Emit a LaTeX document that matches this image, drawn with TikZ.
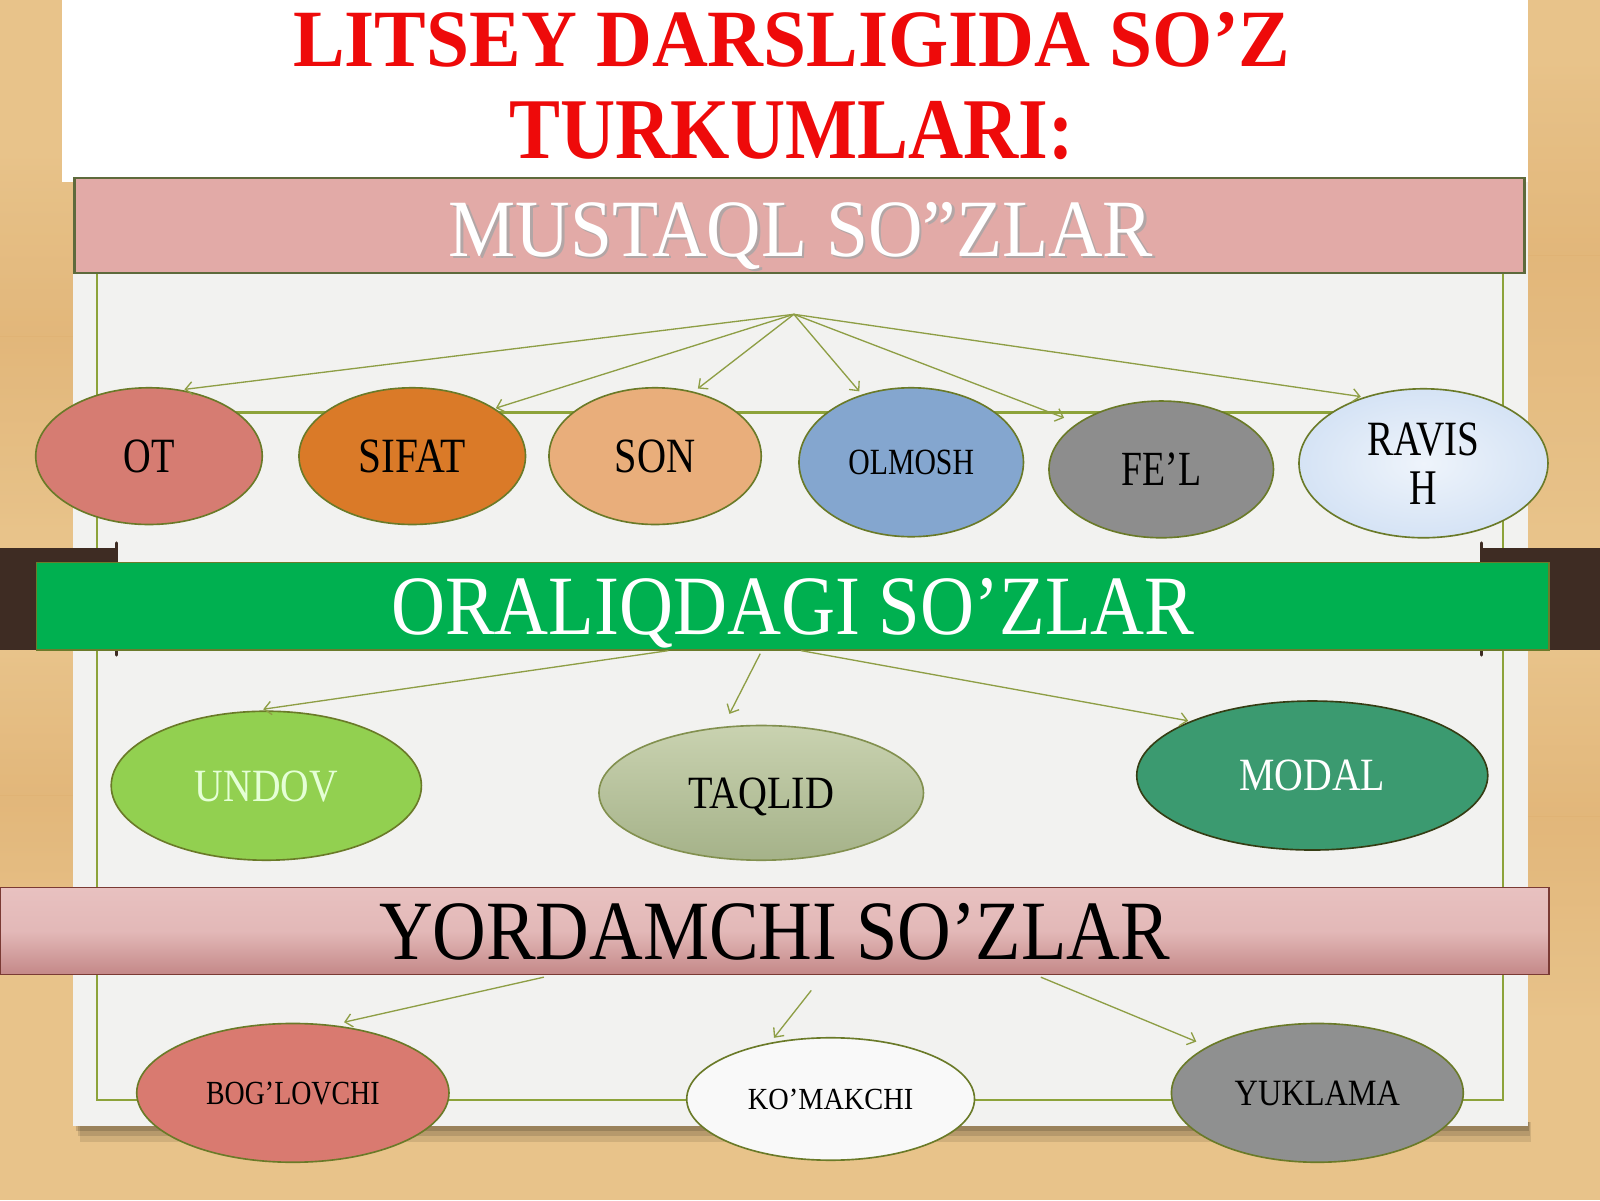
\documentclass[tikz,border=0pt]{standalone}
\usepackage{fontspec}
\setmainfont{Liberation Serif}
\usepackage{graphicx}
\usetikzlibrary{arrows.meta,shapes.geometric}
\definecolor{wood}{HTML}{E8C38A}
\definecolor{wooddark}{HTML}{E0B274}
\definecolor{pagec}{HTML}{F2F2F0}
\definecolor{framec}{HTML}{8DA33A}
\definecolor{arrowc}{HTML}{8E9E45}
\definecolor{ellb}{HTML}{6A7A28}
\definecolor{otc}{HTML}{D67C72}
\definecolor{sifatc}{HTML}{DA7A28}
\definecolor{sonc}{HTML}{E9AE7B}
\definecolor{olmc}{HTML}{84A6CF}
\definecolor{felc}{HTML}{8D8D8D}
\definecolor{ravc}{HTML}{D5E3F5}
\definecolor{undc}{HTML}{92D050}
\definecolor{undt}{HTML}{E5FFD6}
\definecolor{taqt}{HTML}{C9D2B0}
\definecolor{taqb}{HTML}{A5B289}
\definecolor{modc}{HTML}{3B9A70}
\definecolor{bogc}{HTML}{D97A70}
\definecolor{komc}{HTML}{F9F9F9}
\definecolor{yukc}{HTML}{8F9090}
\definecolor{musc}{HTML}{E2AAA7}
\definecolor{musb}{HTML}{5E6A3C}
\definecolor{grn}{HTML}{00B050}
\definecolor{grnb}{HTML}{6B7B2B}
\definecolor{yordt}{HTML}{E8C1C0}
\definecolor{yordb}{HTML}{C48888}
\definecolor{yordbd}{HTML}{7A3A34}
\definecolor{tabc}{HTML}{3E2C23}
\definecolor{titler}{HTML}{EE0A0A}
\newcommand{\fitbox}[3]{\raisebox{0pt}[\height][0pt]{\resizebox{#1pt}{#2pt}{#3}}}
\begin{document}
\begin{tikzpicture}[x=1pt,y=-1pt,
  ell/.style={ellipse, draw=ellb, line width=1.6pt, inner sep=0pt, align=center},
  arr/.style={draw=arrowc, line width=1.3pt, -{Straight Barb[length=7pt,width=13pt]}},
  bar/.style={rectangle, inner sep=0pt}]
\useasboundingbox (0,0) rectangle (1568,1176);
% background wood
\fill[wood] (0,0) rectangle (1568,1176);
\shade[top color=wood, bottom color=wooddark, opacity=.7] (0,150) rectangle (72,330);
\shade[top color=wooddark, bottom color=wood, opacity=.7] (0,330) rectangle (72,520);
\shade[top color=wood, bottom color=wooddark, opacity=.7] (0,640) rectangle (72,780);
\shade[top color=wooddark, bottom color=wood, opacity=.7] (0,780) rectangle (72,950);
\shade[top color=wood, bottom color=wooddark, opacity=.7] (1497,60) rectangle (1568,250);
\shade[top color=wooddark, bottom color=wood, opacity=.7] (1497,250) rectangle (1568,520);
\shade[top color=wood, bottom color=wooddark, opacity=.7] (1497,640) rectangle (1568,800);
\shade[top color=wooddark, bottom color=wood, opacity=.7] (1497,800) rectangle (1568,1000);
% page shadow
\fill[black,opacity=.10] (78,1100) rectangle (1500,1119);
\fill[black,opacity=.12] (76,1100) rectangle (1499,1113);
\fill[black,opacity=.15] (74,1100) rectangle (1498,1108);
% page
\fill[pagec] (72,175) rectangle (1497,1103);
\fill[white] (61,0) rectangle (1497,178);
% inner frame
\draw[framec, line width=1.6pt] (95,268) rectangle (1473,1078);
\draw[framec, line width=2.6pt] (95,404) -- (1473,404);
% title
\node[anchor=base, inner sep=0pt, text=titler] (t1) at (776,65)
  {\fitbox{977}{53}{\bfseries LITSEY DARSLIGIDA SO’Z}};
\node[anchor=base, inner sep=0pt, text=titler] (t2) at (776,155)
  {\fitbox{553}{56}{\bfseries TURKUMLARI:}};
% MUSTAQL bar
\node[bar, draw=musb, line width=2pt, fill=musc, minimum width=1421pt, minimum height=94pt] (mus) at (783.5,221) {};
\node[inner sep=0pt, text=black!35, opacity=.8] (musshadow) at (787.5,226.5) {\fitbox{690}{53}{MUSTAQL SO”ZLAR}};
\node[inner sep=0pt, text=white] (mustxt) at (785,224.5) {\fitbox{690}{53}{MUSTAQL SO”ZLAR}};
% dark tabs
\fill[tabc] (0,537) rectangle (116,637);
\fill[tabc] (1450,537) rectangle (1568,637);
\draw[tabc, line width=3pt, line cap=round] (114,532) -- (114,545);
\draw[tabc, line width=3pt, line cap=round] (114,630) -- (114,642);
\draw[tabc, line width=3pt, line cap=round] (1452,532) -- (1452,545);
\draw[tabc, line width=3pt, line cap=round] (1452,630) -- (1452,642);
% green band
\node[bar, draw=grnb, line width=1.2pt, fill=grn, minimum width=1482pt, minimum height=86pt, text=white] (ora) at (777,594)
  {\fitbox{787}{55}{ORALIQDAGI SO’ZLAR}};
% YORDAMCHI bar
\node[bar, draw=yordbd, line width=1.2pt, top color=yordt, bottom color=yordb, middle color=yordt!85!yordb, minimum width=1518pt, minimum height=85pt, text=black] (yor) at (759,912.5)
  {\fitbox{775}{55}{YORDAMCHI SO’ZLAR}};
% connector start points
\coordinate (hub) at ([xshift=-5.5pt,yshift=-39pt]mus.south);
\coordinate (o1) at ([xshift=-122pt]ora.south);
\coordinate (o2) at ([xshift=-32pt,yshift=-3pt]ora.south);
\coordinate (o3) at ([xshift=8pt]ora.south);
\coordinate (y1) at ([xshift=-226pt,yshift=-2pt]yor.south);
\coordinate (y2) at ([xshift=36pt,yshift=-15pt]yor.south);
\coordinate (y3) at ([xshift=261pt,yshift=-2pt]yor.south);
% row 1 ellipses
\node[ell, fill=otc, minimum width=222pt, minimum height=134pt] (ot) at (146,447) {\fitbox{50}{32}{OT}};
\node[ell, fill=sifatc, minimum width=222pt, minimum height=134pt] (sifat) at (404,447) {\fitbox{105}{32}{SIFAT}};
\node[ell, fill=sonc, minimum width=208pt, minimum height=134pt] (son) at (642,447) {\fitbox{79}{32}{SON}};
\node[ell, fill=olmc, minimum width=220pt, minimum height=146pt] (olm) at (893,453) {\fitbox{123}{24}{OLMOSH}};
\node[ell, fill=felc, minimum width=220pt, minimum height=134pt] (fel) at (1138,460) {\fitbox{78}{32}{FE’L}};
\node[ell, inner color=white!60!ravc, outer color=ravc, draw=ellb, minimum width=244pt, minimum height=146pt, font=\fontsize{30}{48}\selectfont] (rav) at (1395,454)
  {\fitbox{110}{32}{RAVIS}\\\fitbox{27}{32}{H}};
% row 2 ellipses
\node[ell, fill=undc, minimum width=304pt, minimum height=146pt, text=undt] (und) at (261,770) {\fitbox{140}{30}{UNDOV}};
\node[ell, draw=ellb!60!taqb, top color=taqt, bottom color=taqb, minimum width=318pt, minimum height=132pt] (taq) at (746,777) {\fitbox{143}{30}{TAQLID}};
\node[ell, draw=ellb!50!black, fill=modc, minimum width=344pt, minimum height=146pt, text=white] (mod) at (1286,760) {\fitbox{143}{30}{MODAL}};
% row 3 ellipses
\node[ell, fill=bogc, minimum width=306pt, minimum height=136pt] (bog) at (287,1071) {\fitbox{170}{22}{BOG’LOVCHI}};
\node[ell, fill=komc, minimum width=282pt, minimum height=120pt] (kom) at (814,1077) {\fitbox{162}{20}{KO’MAKCHI}};
\node[ell, fill=yukc, minimum width=286pt, minimum height=136pt] (yuk) at (1291,1071) {\fitbox{162}{24}{YUKLAMA}};
% connectors
\draw[arr, shorten >=3pt] (hub) -- (ot.64);
\draw[arr, shorten >=1pt] (hub) -- (sifat.30);
\draw[arr, shorten >=5pt] (hub) -- (son.59);
\draw[arr, shorten >=4pt] (hub) -- (olm.126);
\draw[arr, shorten >=14pt] (hub) -- (fel.151);
\draw[arr, shorten >=3pt] (hub) -- (rav.132);
\draw[arr, shorten >=10pt] (o1) -- (und.100);
\draw[arr, shorten >=14pt] (o2) -- (taq.120);
\draw[arr, shorten >=2pt] (o3) -- (mod.156);
\draw[arr, shorten >=12pt] (y1) -- (bog.60);
\draw[arr, shorten >=6pt] (y2) -- (kom.137);
\draw[arr, shorten >=12pt] (y3) -- (yuk.157);
\end{tikzpicture}
\end{document}
